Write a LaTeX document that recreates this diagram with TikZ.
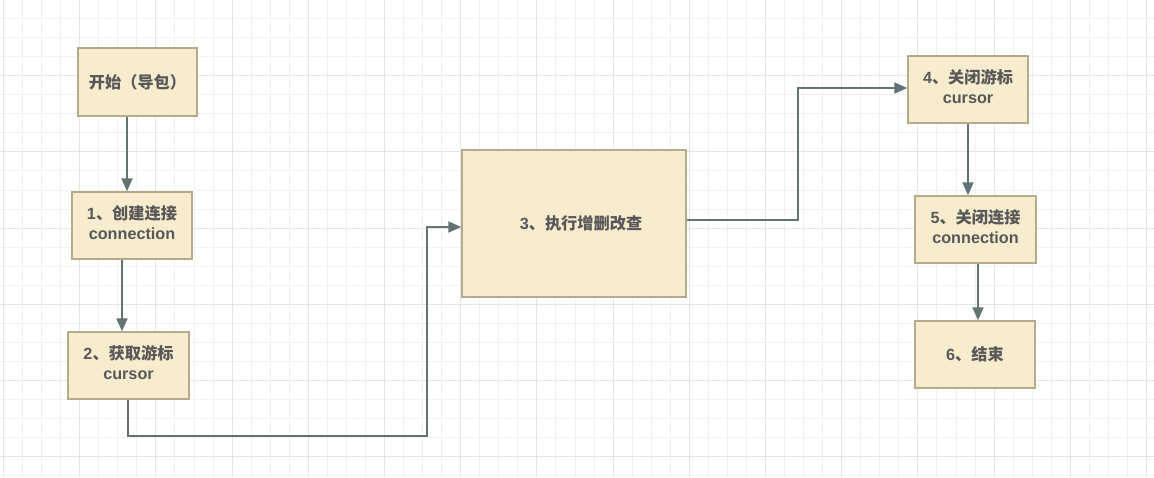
\documentclass[tikz,border=0pt]{standalone}
\usepackage{fontspec}
\setmainfont{Liberation Sans}
\newfontfamily\cjk{Noto Sans CJK SC}
\usetikzlibrary{arrows.meta}
\definecolor{gridminor}{HTML}{F1F1F1}
\definecolor{gridmajor}{HTML}{E4E4E4}
\definecolor{boxfill}{HTML}{F8ECCE}
\definecolor{boxline}{HTML}{B4AA8C}
\definecolor{arrcol}{HTML}{637373}
\definecolor{txtcol}{HTML}{585858}
\tikzset{
  box/.style={draw=boxline, fill=boxfill, line width=1.5pt, rectangle, inner sep=0pt,
    align=center, text=txtcol, font=\fontsize{16.2}{20}\selectfont\bfseries},
  arr/.style={draw=arrcol, line width=1.9pt, -{Triangle[length=13pt,width=11pt]}},
}
\begin{document}
\begin{tikzpicture}[x=1pt,y=-1pt]
\useasboundingbox (0,0) rectangle (1154,477);
\fill[white] (0,0) rectangle (1154,477);
% grid
\foreach \i in {0,...,60} {
  \pgfmathsetmacro{\xx}{round(3+19.05*\i)+0.5}
  \draw[gridminor, line width=1pt] (\xx,0) -- (\xx,477);
}
\foreach \i in {1,...,25} {
  \pgfmathsetmacro{\yy}{round(-1+19.05*\i)+0.5}
  \draw[gridminor, line width=1pt] (0,\yy) -- (1154,\yy);
}
\foreach \i in {0,...,15} {
  \pgfmathsetmacro{\xx}{round(3+76.2*\i)+0.5}
  \draw[gridmajor, line width=1.6pt] (\xx,0) -- (\xx,477);
}
\foreach \i in {1,...,6} {
  \pgfmathsetmacro{\yy}{round(-1+76.2*\i)+0.5}
  \draw[gridmajor, line width=1.6pt] (0,\yy) -- (1154,\yy);
}
% boxes
\node[box, minimum width=119pt, minimum height=68pt] (s) at (137.5,82) {{\cjk 开始（导包）}};
\node[box, minimum width=120pt, minimum height=67pt] (b1) at (132,225.5) {1{\cjk 、创建连接}\\connection\rule[-6pt]{0pt}{1pt}};
\node[box, minimum width=121pt, minimum height=67pt] (b2) at (128.5,365.5) {2{\cjk 、获取游标}\\cursor\rule[-6pt]{0pt}{1pt}};
\node[box, minimum width=224pt, minimum height=147pt] (b3) at (574,223.5) {\hspace{14pt}3{\cjk 、执行增删改查}};
\node[box, minimum width=120pt, minimum height=67pt] (b4) at (968,89.5) {4{\cjk 、关闭游标}\\cursor\rule[-6pt]{0pt}{1pt}};
\node[box, minimum width=121pt, minimum height=67pt] (b5) at (975.5,229.5) {5{\cjk 、关闭连接}\\connection\rule[-6pt]{0pt}{1pt}};
\node[box, minimum width=120pt, minimum height=67pt] (b6) at (975,354.5) {6{\cjk 、结束}};
% routing coordinates
\coordinate (xs) at (127,0);
\coordinate (x1) at (122,0);
\coordinate (x2) at (128,0);
\coordinate (y2) at (0,436);
\coordinate (x2b) at (427,0);
\coordinate (y3in) at (0,227);
\coordinate (y3out) at (0,220);
\coordinate (x3b) at (798,0);
\coordinate (y4in) at (0,88);
\coordinate (x4) at (968,0);
\coordinate (x5) at (978,0);
% connectors
\draw[arr] (s.south -| xs) -- (b1.north -| xs);
\draw[arr] (b1.south -| x1) -- (b2.north -| x1);
\draw[arr] (b2.south -| x2) -- (x2 |- y2) -- (x2b |- y2) -- (x2b |- y3in) -- (b3.west |- y3in);
\draw[arr] (b3.east |- y3out) -- (x3b |- y3out) -- (x3b |- y4in) -- (b4.west |- y4in);
\draw[arr] (b4.south -| x4) -- (b5.north -| x4);
\draw[arr] (b5.south -| x5) -- (b6.north -| x5);
\end{tikzpicture}
\end{document}
